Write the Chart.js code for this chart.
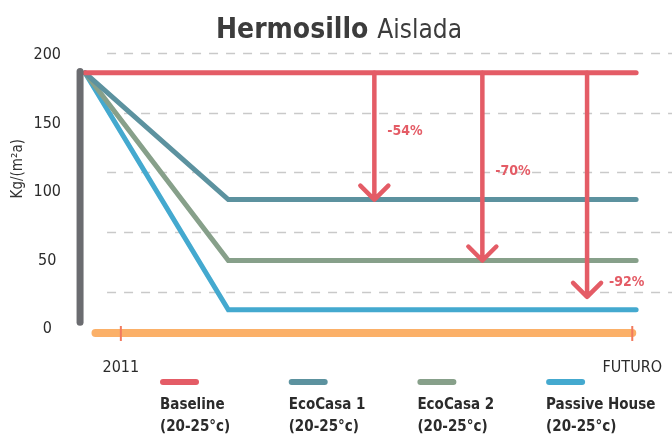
<!DOCTYPE html>
<html>
<head>
<meta charset="utf-8">
<script src="https://cdn.jsdelivr.net/npm/chart.js@4.4.1/dist/chart.umd.min.js"></script>
<style>
html, body { margin: 0; padding: 0; background: #fff; }
#wrap { width: 672px; height: 435px; position: relative; }
</style>
</head>
<body>
<div id="wrap"><canvas id="myChart" width="672" height="435"></canvas></div>
<script>
// timeline: 2011, end of the reduction, future
var timeline = [0, 26, 100];
var seriesNames = ['Baseline', 'EcoCasa 1', 'EcoCasa 2', 'Passive House'];
var seriesNote = '(20-25°c)';
var startValue = 187;
var finalValues = [187, 94.5, 50, 14];
var seriesColors = ['#e45c66', '#5c929f', '#87a08a', '#44a9cf'];

var yTicks = [0, 50, 100, 150, 200];
var gridValues = [27, 71, 114.5, 158, 201.5];
var xTickValues = [6.5, 99.3];
var xTickLabels = ['2011', 'FUTURO'];

// reduction arrows hanging from the baseline
var arrowX = [52.5, 72.1, 91.1];
var arrowTo = [94.5, 50, 23.5];
var arrowLabels = ['-54%', '-70%', '-92%'];
var arrowLabelY = [144, 115, 34];

var fontFamily = '"Liberation Sans Narrow", "DejaVu Sans Condensed", Roboto, sans-serif';
Chart.defaults.font.family = fontFamily;

var datasets = seriesNames.map(function (name, i) {
    return {
        label: name,
        data: [
            { x: timeline[0], y: startValue },
            { x: timeline[1], y: finalValues[i] },
            { x: timeline[2], y: finalValues[i] }
        ],
        borderColor: seriesColors[i],
        borderWidth: 5,
        borderCapStyle: 'round',
        borderJoinStyle: 'miter',
        pointRadius: 0,
        order: i + 1,
        clip: false
    };
});

// grey value bar on the left and orange time bar at the bottom
datasets.push({
    label: 'axis',
    data: [{ x: -0.9, y: 5 }, { x: -0.9, y: 188 }],
    borderColor: '#6b6c70',
    borderWidth: 7,
    borderCapStyle: 'round',
    pointRadius: 0,
    order: 0,
    clip: false
});
datasets.push({
    label: 'time',
    data: [{ x: 1.9, y: -2.9 }, { x: 99.3, y: -2.9 }],
    borderColor: '#fbb068',
    borderWidth: 8,
    borderCapStyle: 'round',
    pointRadius: 0,
    order: 0,
    clip: false
});

var decorations = {
    id: 'decorations',
    beforeDatasetsDraw: function (chart) {
        var ctx = chart.ctx, xs = chart.scales.x, ys = chart.scales.y;
        ctx.save();
        ctx.strokeStyle = '#c9c9c9';
        ctx.lineWidth = 1.3;
        ctx.setLineDash([9, 8]);
        gridValues.forEach(function (v) {
            var y = Math.round(ys.getPixelForValue(v)) + 0.5;
            ctx.beginPath();
            ctx.moveTo(xs.getPixelForValue(4), y);
            ctx.lineTo(chart.width, y);
            ctx.stroke();
        });
        ctx.restore();
    },
    afterDatasetsDraw: function (chart) {
        var ctx = chart.ctx, xs = chart.scales.x, ys = chart.scales.y;
        ctx.save();

        // small marks across the time bar
        ctx.strokeStyle = '#f27a5e';
        ctx.lineWidth = 2;
        xTickValues.forEach(function (v) {
            var x = xs.getPixelForValue(v), y = ys.getPixelForValue(-2.9);
            ctx.beginPath();
            ctx.moveTo(x, y - 7);
            ctx.lineTo(x, y + 8);
            ctx.stroke();
        });

        // arrows
        ctx.strokeStyle = seriesColors[0];
        ctx.fillStyle = seriesColors[0];
        ctx.lineWidth = 4.5;
        ctx.lineCap = 'round';
        ctx.lineJoin = 'round';
        ctx.font = 'bold 14px ' + fontFamily;
        ctx.textBaseline = 'middle';
        ctx.textAlign = 'left';
        arrowX.forEach(function (v, i) {
            var x = xs.getPixelForValue(v);
            var y0 = ys.getPixelForValue(startValue);
            var y1 = ys.getPixelForValue(arrowTo[i]);
            ctx.beginPath();
            ctx.moveTo(x, y0);
            ctx.lineTo(x, y1);
            ctx.moveTo(x - 14, y1 - 14);
            ctx.lineTo(x, y1);
            ctx.lineTo(x + 14, y1 - 14);
            ctx.stroke();
            ctx.fillText(arrowLabels[i], x + (i === 2 ? 22 : 13), ys.getPixelForValue(arrowLabelY[i]));
        });
        ctx.restore();
    },
    afterDraw: function (chart) {
        var ctx = chart.ctx, ys = chart.scales.y;
        ctx.save();

        // title
        ctx.fillStyle = '#3c3c3c';
        ctx.textBaseline = 'alphabetic';
        ctx.textAlign = 'left';
        var boldFont = 'bold 28px ' + fontFamily;
        var lightFont = '26px ' + fontFamily;
        ctx.font = boldFont;
        var w1 = ctx.measureText('Hermosillo').width;
        ctx.font = lightFont;
        var w2 = ctx.measureText('Aislada').width;
        var gap = 9;
        var left = 339 - (w1 + gap + w2) / 2;
        ctx.font = boldFont;
        ctx.fillText('Hermosillo', left, 38);
        ctx.font = lightFont;
        ctx.fillText('Aislada', left + w1 + gap, 38);

        // unit label
        ctx.save();
        ctx.translate(18, ys.getPixelForValue(117));
        ctx.rotate(-Math.PI / 2);
        ctx.textAlign = 'center';
        ctx.textBaseline = 'middle';
        ctx.font = '15px ' + fontFamily;
        ctx.fillStyle = '#333';
        ctx.fillText('Kg/(m²a)', 0, 0);
        ctx.restore();

        // legend
        ctx.lineCap = 'round';
        ctx.lineWidth = 6;
        ctx.textAlign = 'left';
        ctx.textBaseline = 'middle';
        ctx.font = 'bold 15px ' + fontFamily;
        seriesNames.forEach(function (name, i) {
            var x = 160 + i * 128.7;
            ctx.strokeStyle = seriesColors[i];
            ctx.beginPath();
            ctx.moveTo(x + 3, 382);
            ctx.lineTo(x + 36, 382);
            ctx.stroke();
            ctx.fillStyle = '#2b2b2b';
            ctx.fillText(name, x, 405);
            ctx.fillText(seriesNote, x, 427);
        });
        ctx.restore();
    }
};

var ctx = document.getElementById('myChart').getContext('2d');
var myChart = new Chart(ctx, {
    type: 'line',
    data: { datasets: datasets },
    options: {
        responsive: false,
        animation: false,
        layout: { padding: { top: 48, right: 0, bottom: 0, left: 0 } },
        plugins: {
            legend: { display: false },
            title: { display: false },
            tooltip: { enabled: false }
        },
        scales: {
            x: {
                type: 'linear',
                min: -2,
                max: 106.3,
                grid: { display: false },
                border: { display: false },
                afterBuildTicks: function (scale) {
                    scale.ticks = xTickValues.map(function (v) { return { value: v }; });
                },
                afterFit: function (scale) { scale.height = 95; },
                ticks: {
                    autoSkip: false,
                    maxRotation: 0,
                    padding: 10,
                    color: '#2b2b2b',
                    font: { size: 16 },
                    callback: function (value, index) { return xTickLabels[index]; }
                }
            },
            y: {
                type: 'linear',
                min: -8,
                max: 205.1,
                grid: { display: false },
                border: { display: false },
                afterBuildTicks: function (scale) {
                    scale.ticks = yTicks.map(function (v) { return { value: v }; });
                },
                afterFit: function (scale) { scale.width = 74; },
                ticks: {
                    crossAlign: 'center',
                    padding: 5,
                    color: '#2b2b2b',
                    font: { size: 16 }
                }
            }
        }
    },
    plugins: [decorations]
});
</script>
</body>
</html>
